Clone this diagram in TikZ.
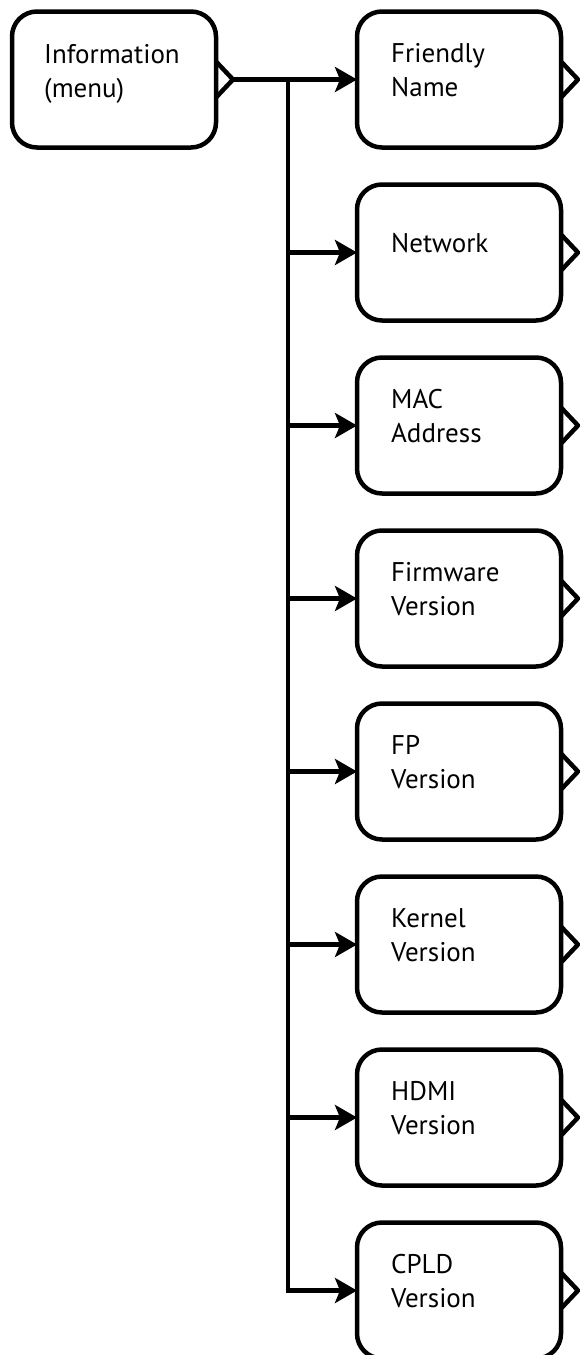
\documentclass[tikz,border=0pt]{standalone}
\usepackage{fontspec}
\setmainfont{PT Sans}
\usetikzlibrary{arrows.meta,calc}
\tikzset{
  box/.style={draw, line width=4.5pt, rounded corners=25pt, minimum width=204pt, minimum height=136pt, outer sep=0pt, inner sep=0pt},
  lbl/.style={anchor=base west, inner sep=0pt, align=left, font=\fontsize{27}{34}\selectfont},
  conn/.style={line width=4.5pt},
  arr/.style={line width=4.5pt, -{Stealth[length=22pt,width=25pt,inset=5pt]}},
  notch/.style={line width=4.5pt, line join=miter}
}
\begin{document}
\begin{tikzpicture}[x=1pt,y=-1pt]
\useasboundingbox (0,0) rectangle (580,1355);
\node[box] (info) at (114,79.5) {};
\node[lbl] (infot) at (44,97) {Information\\(menu)};
\draw[notch] ($(info.east)+(0,-18)$) -- ($(info.east)+(17,0)$) coordinate (infotip) -- ($(info.east)+(0,18)$);
\coordinate (bus) at (288,79.5);
\foreach \i/\name/\txt/\two in {0/fn/Friendly\\Name/1, 1/net/Network/0, 2/mac/MAC\\Address/1, 3/fw/Firmware\\Version/1, 4/fp/FP\\Version/1, 5/kv/Kernel\\Version/1, 6/hd/HDMI\\Version/1, 7/cp/CPLD\\Version/1} {
  \pgfmathsetmacro{\cy}{79.5+173*\i}
  \node[box] (\name) at (459,\cy) {};
  \ifnum\two=1
    \node[lbl] (\name t) at (391,\cy+17) {\txt};
  \else
    \node[lbl] (\name t) at (391,\cy) {\txt};
  \fi
  \draw[notch] ($(\name.east)+(0,-18)$) -- ($(\name.east)+(17,0)$) -- ($(\name.east)+(0,18)$);
  \coordinate (b\i) at (288,\cy);
  \draw[arr] (b\i) -- (\name.west);
}
\draw[conn] (infotip) -- (bus);
\draw[conn] ($(b0)+(0,-2.25)$) -- ($(b7)+(0,2.25)$);
\end{tikzpicture}
\end{document}
